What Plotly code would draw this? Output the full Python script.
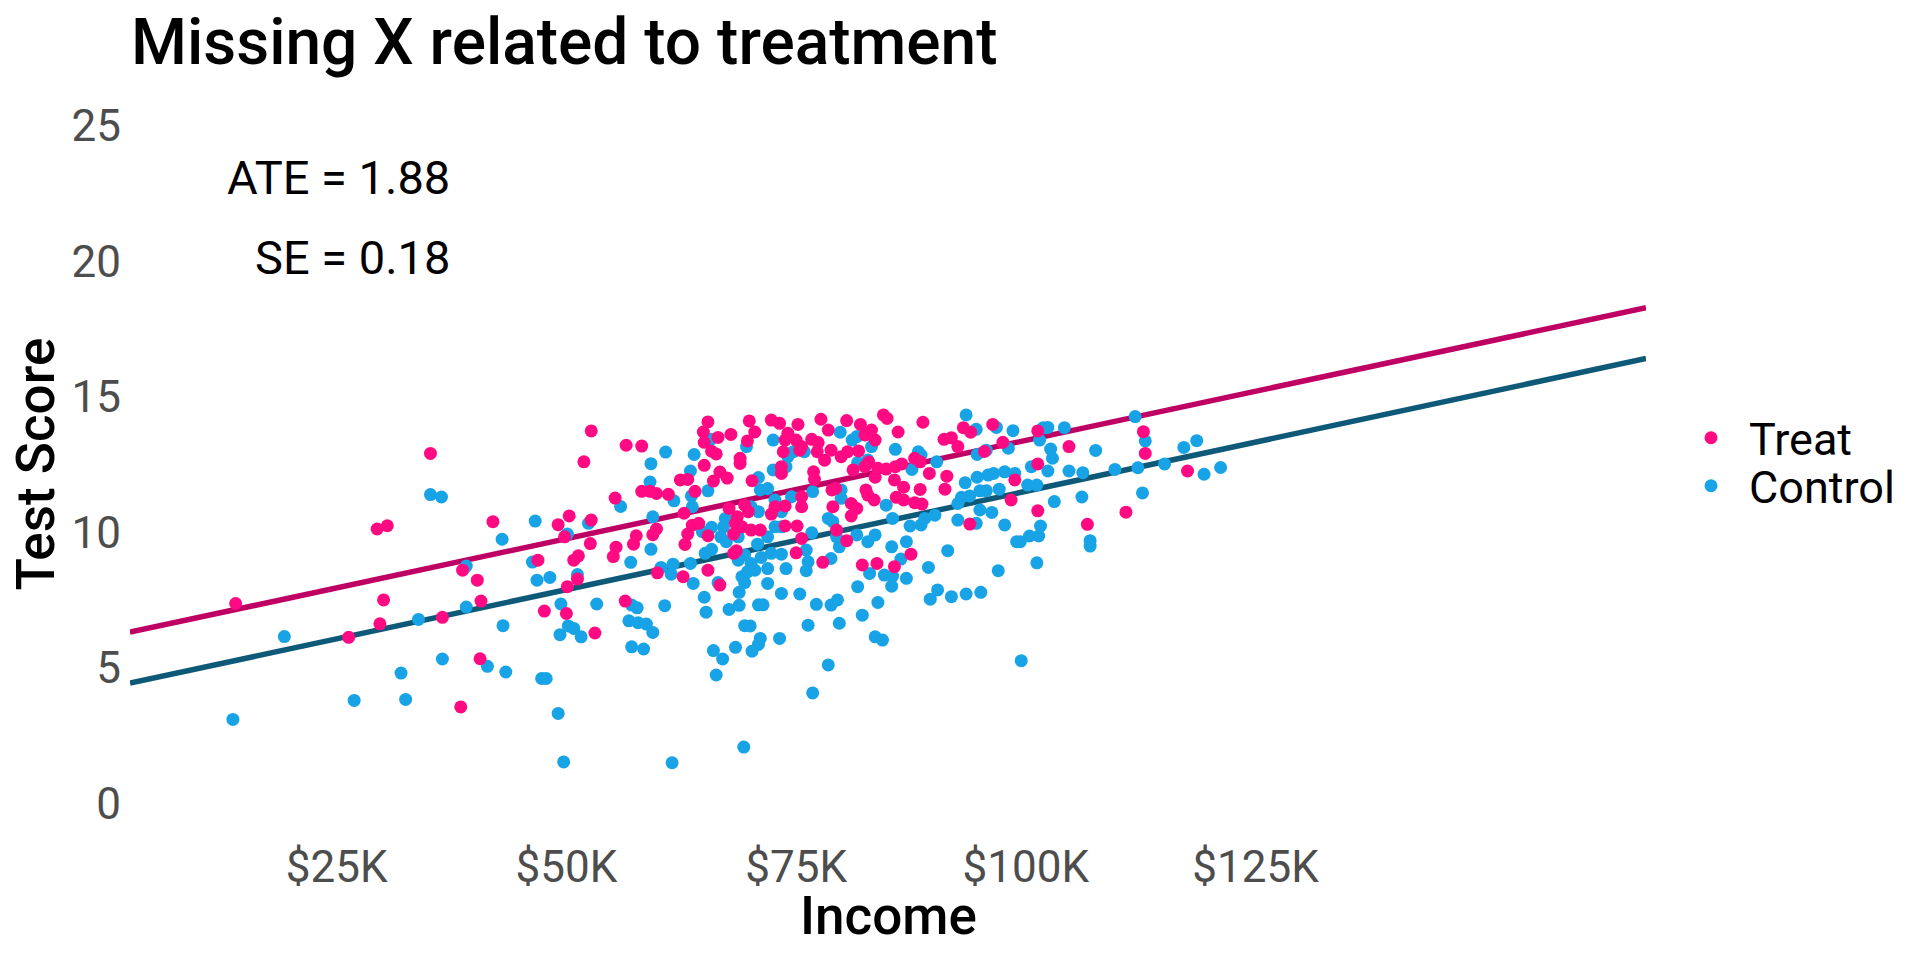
import plotly.graph_objects as go

# ---------------- data (income in $K, test score) ----------------
treat_income = [35.2, 29.4, 30.5, 14.0, 42.0, 46.9, 38.7, 40.3, 30.1, 40.7, 29.7, 36.5, 26.3, 40.6, 38.5,
    52.7, 51.9, 56.5, 58.2, 65.4, 64.9, 65.0, 66.5, 67.9, 69.9, 70.5, 69.7, 72.3, 65.8, 66.3, 68.9, 68.9, 65.0,
    66.7, 67.5, 66.0, 62.4, 63.2, 70.2, 64.0, 58.2, 59.1, 59.8, 61.1, 55.3, 50.3, 49.1, 52.7, 49.8, 52.6, 57.6,
    57.3, 59.8, 59.4, 62.8, 63.7, 64.4, 63.2, 62.9, 65.4, 55.4, 55.1, 51.3, 50.8, 51.2, 50.1, 59.9, 65.4, 62.7,
    66.7, 67.7, 69.4, 69.8, 68.6, 68.4, 69.1, 68.2, 70.1, 71.1, 72.3, 72.7, 68.2, 68.5,
    73.2, 75.2, 77.7, 78.5, 80.5, 82.0, 83.2, 84.5, 84.9, 86.1, 88.8, 93.2, 94.0, 96.4, 91.1, 91.9, 92.6, 74.1,
    73.8, 75.0, 75.6, 76.7, 77.4, 73.6, 75.4, 77.3, 78.1, 78.8, 79.9, 80.6, 81.8, 82.5, 83.6, 81.2, 82.5, 82.9,
    83.9, 84.8, 85.8, 86.5, 87.9, 88.5, 89.5, 91.4, 91.2, 85.7, 86.7, 88.5, 83.6, 82.6, 82.8, 83.5, 85.9, 86.7,
    87.9, 88.7, 76.9, 77.0, 73.4, 73.4, 78.9, 79.3, 79.0, 81.0, 81.6, 81.0, 75.6, 75.6, 73.8, 73.8, 75.1, 75.6,
    79.4, 80.5, 75.0, 77.9, 82.2, 83.8, 85.7, 87.5, 93.9, 98.8, 98.4, 95.5, 97.5,
    101.3, 104.7, 101.3, 112.8, 113.0, 117.6, 101.3, 106.7, 110.9,
    47.6, 50.0, 53.1, 56.4]
treat_score = [12.91, 10.12, 10.24, 7.37, 10.39, 8.97, 8.60, 8.23, 7.50, 7.46, 6.62, 6.86, 6.12, 5.33, 3.55,
    13.74, 12.60, 13.21, 13.18, 14.07, 13.70, 13.32, 13.50, 13.61, 14.11, 13.70, 13.37, 14.14, 12.99, 12.89, 12.73,
    12.54, 12.47, 12.22, 12.00, 11.89, 11.93, 11.95, 11.90, 11.51, 11.51, 11.51, 11.43, 11.40, 11.26, 10.60, 10.28,
    10.45, 9.83, 9.58, 9.87, 9.56, 10.12, 9.91, 10.70, 10.26, 10.33, 9.93, 9.55, 9.87, 9.45, 9.10, 9.13, 8.97, 8.27,
    7.99, 8.50, 8.60, 8.36, 8.05, 10.88, 11.00, 10.76, 10.57, 10.33, 10.20, 9.93, 10.08, 10.08, 10.67, 10.94, 9.22,
    9.32,
    14.02, 13.98, 14.17, 13.77, 14.12, 13.98, 13.77, 14.33, 14.20, 13.70, 14.06, 13.86, 13.69, 13.98, 13.43, 13.49,
    13.16, 13.65, 13.40, 13.40, 13.16, 13.43, 13.31, 12.97, 13.03, 12.97, 12.66, 13.03, 12.79, 12.97, 13.00, 13.59,
    13.40, 12.30, 12.42, 12.59, 12.36, 12.33, 12.42, 12.52, 12.73, 12.60, 12.17, 12.07, 11.59, 11.93, 11.66, 11.58,
    12.03, 11.56, 11.37, 11.19, 11.29, 11.19, 11.09, 11.04, 12.23, 11.95, 12.42, 12.17, 11.56, 11.62, 10.94, 11.06,
    10.88, 10.60, 11.31, 10.94, 10.97, 10.23, 10.23, 9.77, 10.08, 9.69, 9.24, 8.89, 8.79, 8.85, 8.73, 9.19, 10.30,
    11.93, 11.19, 12.98, 13.32,
    13.74, 13.16, 12.52, 13.71, 12.91, 12.26, 10.79, 10.29, 10.74,
    7.09, 7.00, 6.28, 7.46]

control_income = [35.2, 36.4, 46.6, 43.0, 46.3, 39.1, 46.8, 39.1, 33.9, 19.3, 43.1, 36.5, 41.4, 43.4, 32.0, 26.9,
    32.5, 13.7,
    60.8, 59.2, 63.9, 63.5, 59.1, 61.7, 63.6, 63.7, 65.4, 55.9, 52.4, 50.1, 59.4, 59.2, 57.0, 60.3, 61.6, 63.5, 61.4,
    63.8, 48.2, 51.2, 65.8, 64.8, 67.3, 67.1, 66.8, 67.4, 68.7, 71.9, 70.8, 65.1, 65.8, 69.4, 68.7, 70.1, 71.2, 72.3,
    69.1, 69.7, 70.5, 71.9, 69.4, 71.9, 66.5, 70.9, 71.1, 71.9, 72.5, 72.5, 69.6, 72.7, 70.1, 70.9, 72.7, 65.7,
    93.5, 94.6, 96.8, 98.6, 79.8, 81.1, 81.6, 85.8, 83.2, 88.3, 88.6, 90.3, 87.6, 82.8, 81.7, 74.7, 74.1, 75.9, 73.9,
    94.7, 95.7, 98.1, 93.4, 94.7, 95.9, 96.5, 97.7, 98.8, 93.0, 93.9, 95.0, 95.7, 97.1, 92.6, 95.0, 96.3, 92.6, 94.6,
    97.7, 99.0, 91.5, 89.4, 97.0, 84.8, 85.5, 87.4, 88.6, 90.1, 89.0, 78.5, 79.0, 79.9, 79.9, 76.8, 74.5, 73.4, 73.4,
    76.7, 79.4, 79.7, 81.6, 82.8, 83.6, 85.4, 87.0, 86.4, 76.1, 76.3, 78.8, 73.4, 73.9, 76.1, 83.0, 84.6, 85.5, 87.0,
    81.7, 85.4,
    101.9, 102.4, 104.2, 101.5, 102.7, 102.9, 100.6, 102.4, 104.7, 106.2, 107.6, 109.7, 111.9, 113.0, 112.2, 115.1,
    117.2, 118.6, 119.4, 121.2, 100.2, 101.2, 103.1, 106.1, 112.7, 101.6, 100.4, 101.4, 99.4, 107.0, 107.0, 101.2,
    49.4, 53.3, 49.3, 50.2, 50.8, 51.6, 57.1, 57.7, 56.8, 57.8, 58.7, 59.4, 57.1, 58.4, 60.7, 47.3, 47.8, 49.1, 49.7,
    61.5, 65.0, 65.2, 67.7, 68.8, 68.8, 70.9, 71.4, 69.4, 70.0, 71.1, 70.9, 70.2, 68.4, 66.0, 67.0, 66.3, 69.3,
    73.4, 75.4, 77.2, 78.8, 79.5, 83.9, 82.2, 76.3, 79.7, 83.6, 84.4, 73.2, 78.5, 76.8, 89.6, 90.4, 91.9, 93.5, 95.1,
    99.5]
control_score = [11.39, 11.30, 10.41, 9.74, 8.90, 8.75, 8.23, 7.24, 6.78, 6.15, 6.55, 5.32, 5.05, 4.84, 4.80, 3.79,
    3.83, 3.09,
    12.96, 12.53, 12.87, 12.26, 11.85, 11.16, 11.34, 10.94, 11.53, 10.95, 10.33, 9.93, 10.57, 9.37, 8.89, 8.70, 8.82,
    8.85, 8.45, 8.11, 8.33, 8.44, 10.18, 10.02, 10.51, 10.20, 9.83, 9.65, 9.83, 9.83, 9.56, 9.22, 9.37, 9.16, 8.97,
    8.85, 9.07, 9.22, 8.36, 8.54, 8.60, 8.66, 8.14, 8.11, 8.14, 12.02, 11.56, 11.61, 12.30, 13.40, 13.16, 11.19,
    10.94, 10.76, 10.20, 13.43,
    14.33, 13.80, 13.87, 13.75, 13.69, 13.40, 13.53, 13.06, 13.16, 12.97, 12.85, 12.60, 12.32, 12.67, 12.57, 12.97,
    12.79, 12.97, 12.42, 12.87, 13.03, 13.10, 11.83, 12.03, 12.11, 12.17, 12.23, 12.17, 11.29, 11.34, 11.53, 11.53,
    11.59, 11.06, 10.82, 10.73, 10.45, 10.33, 10.27, 9.65, 9.32, 8.70, 8.58, 11.00, 10.51, 10.23, 10.27, 10.63,
    10.51, 10.51, 10.39, 11.25, 11.56, 11.50, 11.31, 10.76, 10.20, 9.98, 9.83, 9.46, 9.90, 9.65, 9.90, 9.46, 9.65,
    9.01, 9.34, 8.91, 9.03, 9.19, 8.66, 8.58, 8.48, 8.42, 8.38, 8.30, 7.99, 8.01,
    13.86, 13.87, 13.86, 13.40, 13.07, 12.73, 12.42, 12.26, 12.26, 12.20, 13.02, 12.32, 14.27, 13.37, 12.38, 12.52,
    13.13, 13.38, 12.14, 12.39, 11.74, 11.74, 11.13, 11.30, 11.45, 10.23, 9.86, 9.86, 9.65, 9.69, 9.49, 8.87,
    7.35, 7.35, 6.22, 6.54, 6.45, 6.14, 7.31, 7.21, 6.73, 6.66, 6.61, 6.30, 5.77, 5.69, 7.29, 4.60, 4.60, 3.31, 1.52,
    1.49, 7.60, 7.05, 7.15, 7.30, 7.78, 7.32, 7.32, 6.55, 6.54, 6.08, 5.86, 5.61, 5.75, 5.63, 5.32, 4.73, 2.07,
    7.74, 7.72, 7.34, 7.31, 7.50, 7.41, 6.94, 6.57, 6.64, 6.14, 6.02, 6.08, 5.10, 4.07, 7.53, 7.87, 7.62, 7.72, 7.78,
    5.26]

# fitted model: score = intercept + slope*income + ATE*treat
intercept = 4.25
slope = 0.0726
ate = 1.88
se = 0.18

x_range = [2.5, 167.5]
y_range = [-1.25, 26.25]
x_tickvals = [25, 50, 75, 100, 125]
x_ticktext = ["$25K", "$50K", "$75K", "$100K", "$125K"]
y_tickvals = [0, 5, 10, 15, 20, 25]

# ---------------- style ----------------
PINK = "#FF0A82"
BLUE = "#17A3E6"
PINK_LINE = "#BE0064"
BLUE_LINE = "#0E5878"
FONT = "Roboto"

fig = go.Figure()

line_x = list(x_range)
fig.add_trace(go.Scatter(x=line_x, y=[intercept + ate + slope * v for v in line_x], mode="lines",
                         line=dict(color=PINK_LINE, width=5.5), showlegend=False, hoverinfo="skip"))
fig.add_trace(go.Scatter(x=line_x, y=[intercept + slope * v for v in line_x], mode="lines",
                         line=dict(color=BLUE_LINE, width=5.5), showlegend=False, hoverinfo="skip"))

fig.add_trace(go.Scatter(x=control_income, y=control_score, mode="markers", name="Control",
                         marker=dict(color=BLUE, size=13, line=dict(width=0)), legend="legend2"))
fig.add_trace(go.Scatter(x=treat_income, y=treat_score, mode="markers", name="Treat",
                         marker=dict(color=PINK, size=13, line=dict(width=0)), legend="legend"))

# page offset correction (target pixel positions measured on the reference)
OX, OY = 10, 8
W, H = 1920, 960
L, R, T, B = 132 - OX, 272 + OX, 92 - OY, 123 + OY
pw, ph = W - L - R, H - T - B


def px_x(px):
    return (px - OX - L) / pw


def px_y(py):
    return (H - B - (py - OY)) / ph


annotations = [
    dict(text="Missing X related to treatment", x=px_x(131), y=px_y(42), xref="paper", yref="paper",
         xanchor="left", yanchor="middle", showarrow=False,
         font=dict(family=FONT, size=64, color="black", weight=500)),
    dict(text="Income", x=0.5, y=px_y(916), xref="paper", yref="paper", xanchor="center", yanchor="middle",
         showarrow=False, font=dict(family=FONT, size=53, color="black", weight=500)),
    dict(text="Test Score", x=px_x(37), y=0.5, xref="paper", yref="paper", xanchor="center", yanchor="middle",
         textangle=-90, showarrow=False, font=dict(family=FONT, size=53, color="black", weight=500)),
    dict(text=f"ATE = {ate:.2f}", x=37.5, y=23.1, xref="x", yref="y", xanchor="right", yanchor="middle",
         showarrow=False, font=dict(family=FONT, size=47, color="black")),
    dict(text=f"SE = {se:.2f}", x=37.5, y=20.15, xref="x", yref="y", xanchor="right", yanchor="middle",
         showarrow=False, font=dict(family=FONT, size=47, color="black")),
]

legend_common = dict(xanchor="left", yanchor="middle", itemwidth=66, itemsizing="trace",
                     font=dict(family=FONT, size=45, color="black"), bgcolor="rgba(0,0,0,0)",
                     borderwidth=0)

fig.update_layout(
    width=W, height=H,
    margin=dict(l=L, r=R, t=T, b=B, autoexpand=False),
    paper_bgcolor="white", plot_bgcolor="white",
    font=dict(family=FONT, color="#4D4D4D"),
    annotations=annotations,
    showlegend=True,
    legend=dict(x=px_x(1713 - 38), y=px_y(438), **legend_common),
    legend2=dict(x=px_x(1713 - 38), y=px_y(486), **legend_common),
    xaxis=dict(range=x_range, tickvals=x_tickvals, ticktext=x_ticktext, showgrid=False, zeroline=False,
               showline=False, ticks="", tickfont=dict(family=FONT, size=44, color="#4D4D4D")),
    yaxis=dict(range=y_range, tickvals=y_tickvals, showgrid=False, zeroline=False, showline=False, ticks="",
               ticklabelstandoff=8, tickfont=dict(family=FONT, size=44, color="#4D4D4D")),
)

fig.write_html("out.html")
